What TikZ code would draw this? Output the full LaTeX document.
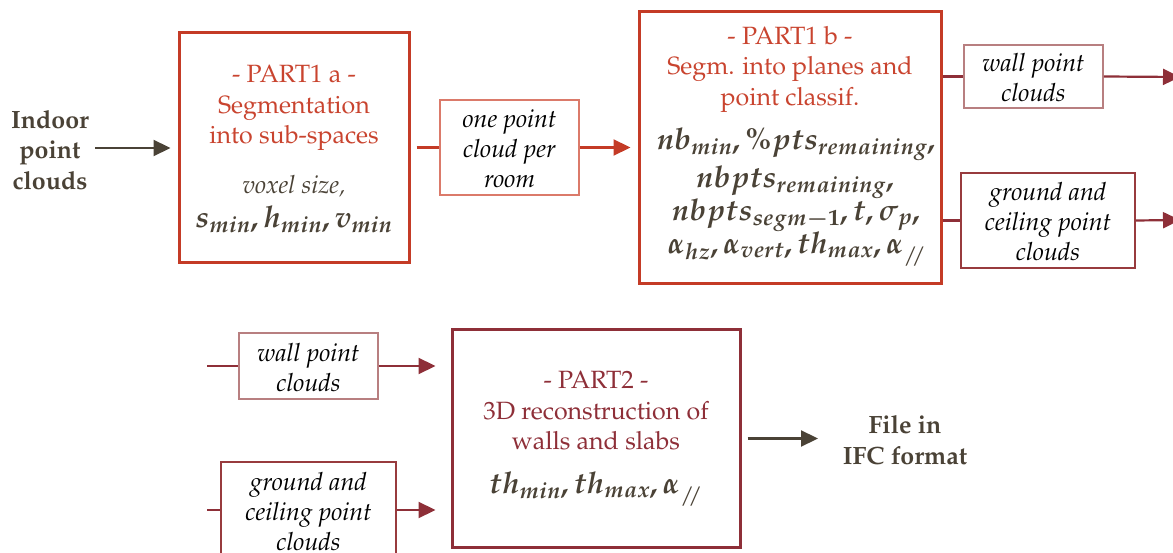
\documentclass[tikz,border=0pt]{standalone}
\usepackage[T1]{fontenc}
\usepackage{mathpazo}
\usetikzlibrary{arrows.meta}
\definecolor{darktxt}{RGB}{74,66,54}
\definecolor{redA}{RGB}{196,59,38}
\definecolor{redTxt}{RGB}{201,68,47}
\definecolor{redLight}{RGB}{219,122,106}
\definecolor{wallC}{RGB}{184,127,128}
\definecolor{groundC}{RGB}{152,59,62}
\definecolor{partII}{RGB}{142,47,56}
\newcommand{\parsl}{\lower6pt\hbox{\mathversion{normal}$\scriptstyle/\mkern-5mu/$}}
\tikzset{
  txt/.style={font=\fontsize{25}{30.5}\selectfont, align=center, inner sep=0pt},
  ittxt/.style={txt, font=\fontsize{25}{30}\selectfont\itshape, text=black},
  mathtxt/.style={inner sep=0pt, text=darktxt, font=\fontsize{30}{34}\selectfont\mathversion{bold}},
  bigbox/.style={draw, line width=3pt, inner sep=0pt},
  smallbox/.style={draw, line width=1.5pt, inner sep=0pt},
  arr/.style={line width=2.2pt, -{Triangle[length=17pt,width=16pt]}},
  plain/.style={line width=2.2pt}
}
\begin{document}
\begin{tikzpicture}[x=1pt,y=-1pt]
\useasboundingbox (0,0) rectangle (1173,553);

% ---- Top row ----
\node[txt, text=darktxt, font=\fontsize{25}{30.5}\selectfont\bfseries] (indoor) at (50,150) {Indoor\\point\\clouds};

\node[bigbox, draw=redA, minimum width=230pt, minimum height=230pt] (box1) at (294,148) {};
\node[txt, text=redTxt] (t1) at (294,108) {- PART1 a -\\Segmentation\\into sub-spaces};
\node[txt, text=darktxt, font=\fontsize{25}{30}\selectfont\itshape] (t1b) at (294,186) {voxel size,};
\node[mathtxt] (m1) at (294,219) {$s_{min}, h_{min}, v_{min}$};

\node[smallbox, draw=redLight, minimum width=139pt, minimum height=95pt] (one) at (509.5,147.5) {};
\node[ittxt] (onet) at (509.5,149) {one point\\cloud per\\room};

\node[bigbox, draw=redA, minimum width=302pt, minimum height=272pt] (box2) at (790,148) {};
\node[txt, text=redTxt] (t2) at (790,69) {- PART1 b -\\Segm. into planes and\\point classif.};
\node[mathtxt] (m2a) at (796,144) {$nb_{min}, \%pts_{remaining},$};
\node[mathtxt] (m2b) at (795,182) {$nbpts_{remaining},$};
\node[mathtxt] (m2c) at (796,215) {$nbpts_{segm-1}, t, \sigma_p,$};
\node[mathtxt] (m2d) at (797,249) {$\alpha_{hz}, \alpha_{vert}, th_{max}, \alpha_{\parsl}$};

\node[smallbox, draw=wallC, minimum width=139pt, minimum height=63pt] (wall1) at (1033.5,76.5) {};
\node[ittxt] (wall1t) at (1033.5,78) {wall point\\clouds};
\node[smallbox, draw=groundC, minimum width=174pt, minimum height=95pt] (ground1) at (1048,220.5) {};
\node[ittxt] (ground1t) at (1048,222) {ground and\\ceiling point\\clouds};
\coordinate (r1) at (1180,77);
\coordinate (r2) at (1180,220);

\draw[arr, darktxt, shorten <=6pt, shorten >=7pt] (indoor.east |- box1.west) -- (box1.west);
\draw[plain, redA, shorten <=6pt] (box1.east |- one.west) -- (one.west);
\draw[arr, redA, shorten >=7pt] (one.east) -- (one.east -| box2.west);
\draw[plain, partII] (box2.east |- wall1.west) -- (wall1.west);
\draw[arr, partII] (wall1.east) -- (r1);
\draw[plain, partII] (box2.east |- ground1.west) -- (ground1.west);
\draw[arr, partII] (ground1.east) -- (r2);

% ---- Bottom row ----
\coordinate (l1) at (207,366);
\coordinate (l2) at (207,510);
\node[smallbox, draw=wallC, minimum width=139pt, minimum height=66pt] (wallB) at (308.5,366) {};
\node[ittxt] (wallBt) at (308.5,368) {wall point\\clouds};
\node[smallbox, draw=groundC, minimum width=175pt, minimum height=96pt] (groundB) at (308.5,510) {};
\node[ittxt] (groundBt) at (308.5,512) {ground and\\ceiling point\\clouds};

\node[bigbox, draw=partII, minimum width=288pt, minimum height=217pt] (box3) at (596,438.5) {};
\node[txt, text=partII] (t3) at (596,411) {- PART2 -\\3D reconstruction of\\walls and slabs};
\node[mathtxt] (m3) at (596,489) {$th_{min}, th_{max}, \alpha_{\parsl}$};

\node[txt, text=darktxt, font=\fontsize{25}{31}\selectfont\bfseries] (file) at (905,440) {File in\\IFC format};
\coordinate (fileIn) at (818,438.5);

\draw[plain, partII] (l1) -- (wallB.west);
\draw[arr, partII, shorten >=15pt] (wallB.east) -- (wallB.east -| box3.west);
\draw[plain, partII] (l2) -- (groundB.west);
\draw[arr, partII, shorten >=15pt] (groundB.east) -- (groundB.east -| box3.west);
\draw[arr, darktxt, shorten <=6pt] (box3.east) -- (fileIn);
\end{tikzpicture}
\end{document}
